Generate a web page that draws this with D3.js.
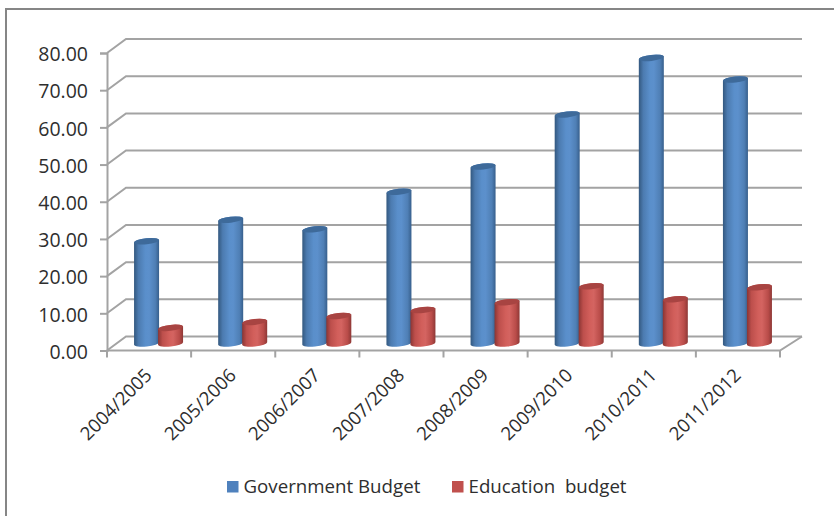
<!DOCTYPE html>
<html>
<head>
<meta charset="utf-8">
<script src="https://cdn.jsdelivr.net/npm/d3@7/dist/d3.min.js"></script>
<style>
html,body{margin:0;padding:0;background:#fff}
svg{display:block}
text{font-family:"Open Sans","Noto Sans",sans-serif;fill:#2e2e2e}
</style>
</head>
<body>
<svg id="chart" width="834" height="516"></svg>
<script>
// Budget figures per fiscal year
const years = ["2004/2005","2005/2006","2006/2007","2007/2008","2008/2009","2009/2010","2010/2011","2011/2012"];
const governmentBudget = [27.5,33.3,30.7,40.8,47.6,61.6,76.8,71.0];
const educationBudget = [4.2,5.8,7.4,9.0,11.1,15.4,11.9,15.1];
const yTicks = [0,10,20,30,40,50,60,70,80];
const seriesNames = ["Government Budget","Education  budget"];
const legendColors = ["#4f81bd","#c0504d"];

const svg = d3.select("#chart");
const defs = svg.append("defs");

// Cylinder shading: dark rims, lighter towards the middle
const shades = [
  {id:"cylBlue", stops:["#33587f","#4c7bb0","#5a8fcb","#5c90cc","#4f7fb5","#375f8c"], cap:"#3e6a9a"},
  {id:"cylRed",  stops:["#8a3533","#bd4f4c","#d25f5b","#d46461","#b94c49","#8e3836"], cap:"#a84442"}
];
shades.forEach(s=>{
  const g = defs.append("linearGradient").attr("id",s.id).attr("x1",0).attr("x2",1).attr("y1",0).attr("y2",0);
  [0,0.18,0.45,0.6,0.85,1].forEach((o,i)=>g.append("stop").attr("offset",o).attr("stop-color",s.stops[i]));
});

// Frame: only the top and left edges fall inside the canvas
svg.append("path").attr("d","M6,516V9H834").attr("fill","none").attr("stroke","#868686").attr("stroke-width",2);

// Scales for the front plane of the 3D box
const y = d3.scaleLinear().domain([0,80]).range([350.5,53]);
const x = d3.scaleBand().domain(years).range([107,780]);
const depth = {dx:19, dy:-14};

const grid = svg.append("g").attr("fill","none").attr("stroke","#a3a3a3").attr("stroke-width",2);

// Back wall and side wall gridlines
grid.selectAll("path.grid").data(yTicks).join("path").attr("class","grid")
  .attr("d",v=>`M${x.range()[0]},${y(v)}L${x.range()[0]+depth.dx},${y(v)+depth.dy}H${x.range()[1]+depth.dx+3}`);

// Floor front edge and right edge
grid.append("path").attr("d",`M${x.range()[0]},${y(0)}H${x.range()[1]}L${x.range()[1]+depth.dx+3},${y(0)+depth.dy}`);

// Value axis
const yAxis = svg.append("g").attr("transform",`translate(${x.range()[0]},0)`)
  .call(d3.axisLeft(y).tickValues(yTicks).tickFormat(d3.format(".2f")).tickSize(7).tickPadding(12));
yAxis.selectAll("path,line").attr("stroke","#a3a3a3").attr("stroke-width",2);
yAxis.selectAll("text").attr("y",1.5).style("font-size","19.5px");

// Category ticks sit on the boundaries between years
grid.selectAll("line.cat").data(d3.range(years.length+1)).join("line").attr("class","cat")
  .attr("x1",i=>x.range()[0]+i*x.step()).attr("x2",i=>x.range()[0]+i*x.step())
  .attr("y1",y(0)).attr("y2",y(0)+7);

// Rotated category labels
svg.append("g").selectAll("text").data(years).join("text")
  .attr("text-anchor","end")
  .attr("transform",d=>`translate(${x(d)+x.bandwidth()/2+4},${y(0)+26}) rotate(-45)`)
  .style("font-size","18.6px")
  .text(d=>d);

// Cylinders: each year's blue bar first, so the red one overlaps it
const r = 12.5, ry = 3, tilt = -6, lift = r*Math.tan(-tilt*Math.PI/180);
const midX = depth.dx/2, midY = depth.dy/2, barOffset = 12;

function drawCylinder(year, value, offset, shade){
  const c = x(year)+x.bandwidth()/2+midX+offset;
  const t = y(value)+midY, b = y(0)+midY;
  const g = svg.append("g");
  g.append("path")
    .attr("fill",`url(#${shade.id})`)
    .attr("d",`M${c-r},${t+lift}L${c-r},${b+lift}A${r},${ry} ${tilt} 0 0 ${c+r},${b-lift}L${c+r},${t-lift}A${r},${ry} ${tilt} 0 0 ${c-r},${t+lift}Z`);
  g.append("ellipse")
    .attr("fill",shade.cap)
    .attr("rx",r).attr("ry",ry)
    .attr("transform",`translate(${c},${t}) rotate(${tilt})`);
}
years.forEach((yr,i)=>{
  drawCylinder(yr, governmentBudget[i], -barOffset, shades[0]);
  drawCylinder(yr, educationBudget[i], barOffset, shades[1]);
});

// Legend
const legendX = [227,452];
const legend = svg.append("g").selectAll("g").data(seriesNames).join("g")
  .attr("transform",(d,i)=>`translate(${legendX[i]},481)`);
legend.append("rect").attr("width",11.5).attr("height",11.5).attr("fill",(d,i)=>legendColors[i]);
legend.append("text").attr("x",16.5).attr("y",12)
  .style("font-size","18.7px").style("white-space","pre").text(d=>d);
</script>
</body>
</html>
